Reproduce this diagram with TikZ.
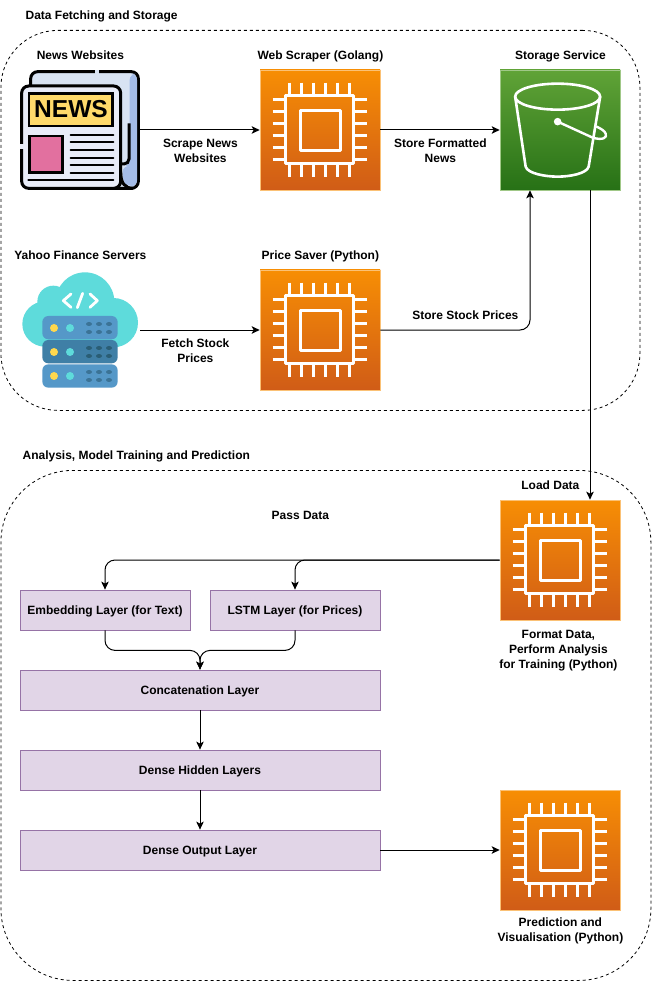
\documentclass[tikz,border=0pt]{standalone}
\usepackage{fontspec}
\setmainfont{Liberation Sans}
\usetikzlibrary{arrows.meta,calc}
\definecolor{orT}{HTML}{F78E04}
\definecolor{orB}{HTML}{D05C17}
\definecolor{grT}{HTML}{60A337}
\definecolor{grB}{HTML}{277116}
\definecolor{purF}{HTML}{E1D5E7}
\definecolor{purD}{HTML}{9673A6}
\definecolor{paperB}{HTML}{D8E3F3}
\definecolor{paperF}{HTML}{E8ECF8}
\definecolor{bandB}{HTML}{A4BCE8}
\definecolor{headY}{HTML}{FFDA6B}
\definecolor{pinkN}{HTML}{E2709F}
\definecolor{cloudC}{HTML}{5EDBDB}
\definecolor{srvA}{HTML}{5598C8}
\definecolor{srvB}{HTML}{3F7FA6}
\definecolor{dotA}{HTML}{3B7396}
\definecolor{dotB}{HTML}{2A5E75}
\definecolor{dotY}{HTML}{FFD84D}
\tikzset{
  x=1pt,y=-1pt,
  lbl/.style={font=\fontsize{12}{15}\selectfont\bfseries,align=center,inner sep=0pt,text=black,yshift=-0.9pt,xshift=0.4pt},
  one/.style={lbl,text height=8.7pt,text depth=2.6pt,yshift=-0.6pt},
  oneleft/.style={one,anchor=west},
  chipbox/.style={minimum size=120pt,inner sep=0pt,shade,top color=orT,bottom color=orB,draw=orT!55!white,line width=.7pt},
  bucketbox/.style={minimum size=120pt,inner sep=0pt,shade,top color=grT,bottom color=grB,draw=grT!60!white,line width=.7pt},
  iconbox/.style={minimum size=120pt,inner sep=0pt},
  layerbox/.style={draw=purD,fill=purF,line width=.8pt,inner sep=0pt,minimum height=40pt,font=\fontsize{12}{15}\selectfont\bfseries,text depth=0pt},
  group/.style={draw=black,dash pattern=on 3pt off 3pt,line width=.8pt,inner sep=0pt},
  conn/.style={draw=black,line width=1pt,rounded corners=10pt,-{Stealth[length=8pt,width=7.5pt,inset=2pt]}},
  wl/.style={draw=white,line width=3pt,line cap=round,line join=round},
}
\newcommand{\chipicon}[1]{%
  \begin{scope}[shift={(#1.north west)}]
    \draw[wl,line cap=butt] (26,26) rectangle (94,94);
    \draw[wl,line cap=butt] (40.5,40.5) rectangle (80.5,80.5);
    \foreach \p in {30,42,54,66,78,90}{
      \draw[wl,line cap=butt] (\p,13) -- (\p,26);
      \draw[wl,line cap=butt] (\p,94) -- (\p,107);
      \draw[wl,line cap=butt] (13,\p) -- (26,\p);
      \draw[wl,line cap=butt] (94,\p) -- (107,\p);
    }
  \end{scope}}
\begin{document}
\begin{tikzpicture}
\useasboundingbox (0,0) rectangle (651,981);
\fill[white] (0,0) rectangle (651,981);
% groups
\node[group,rounded corners=57pt,minimum width=639pt,minimum height=380pt,anchor=north west] (top) at (0.5,30) {};
\node[group,rounded corners=72pt,minimum width=650pt,minimum height=510pt,anchor=north west] (bottom) at (0.5,470) {};
% boxes
\node[iconbox] (news) at (80,130) {};
\node[chipbox] (web) at (320,130) {};
\node[bucketbox] (store) at (560,130) {};
\node[iconbox] (cloud) at (80,330) {};
\node[chipbox] (price) at (320,330) {};
\node[chipbox] (format) at (560,560) {};
\node[chipbox] (pred) at (560,850) {};
\node[layerbox,minimum width=170pt] (emb) at (105,610) {\raisebox{-1pt}{Embedding Layer (for Text)}};
\node[layerbox,minimum width=170pt] (lstm) at (295,610) {\raisebox{-1pt}{LSTM Layer (for Prices)}};
\node[layerbox,minimum width=360pt] (concat) at (200,690) {\raisebox{-1pt}{Concatenation Layer}};
\node[layerbox,minimum width=360pt] (hidden) at (200,770) {\raisebox{-1pt}{Dense Hidden Layers}};
\node[layerbox,minimum width=360pt] (output) at (200,850) {\raisebox{-1pt}{Dense Output Layer}};
\chipicon{web}
\chipicon{price}
\chipicon{format}
\chipicon{pred}
% bucket
\begin{scope}[shift={(store.north west)}]
  \draw[wl,line width=2.6pt] (58,27) ellipse [x radius=42.5,y radius=13];
  \draw[wl,line width=2.6pt] (15.5,27) -- (26,97) .. controls (28,104) and (46,107) .. (58,107) .. controls (70,107) and (87,104) .. (89,97) -- (100.5,27);
  \fill[white] (58,52) circle (3.8);
  \draw[wl,line width=2.4pt] (58,52) -- (93,68) .. controls (103,71) and (108,68) .. (106,64) .. controls (105,61) and (101,59) .. (97,57);
\end{scope}
% newspaper
\begin{scope}[shift={(0,60)},scale=1/3]
  \draw[fill=paperB,draw=black,line width=3pt,rounded corners=7pt] (92,80) -- (92,35) -- (415,35) -- (415,385) -- (200,385);
  \fill[bandB,rounded corners=6pt] (389,42) -- (411,42) -- (411,379) -- (385,379) -- (368,365) -- (368,318) -- (389,318) -- cycle;
  \draw[black,line width=3pt,rounded corners=5pt] (387,190) -- (387,312) -- (362,312);
  \draw[black,line width=3pt] (362,335) .. controls (362,370) and (375,385) .. (400,385);
  \draw[fill=paperF,draw=black,line width=3pt,rounded corners=7pt] (65,78) rectangle (362,385);
  \draw[fill=headY,draw=black,line width=2.6pt] (87,100) rectangle (338,198);
  \node[inner sep=0pt,font=\fontsize{24.5}{26}\selectfont\bfseries] (headline) at (213,148) {NEWS};
  \draw[fill=pinkN,draw=black,line width=2.6pt] (88,228) rectangle (188,338);
  \foreach \q in {225,247,270,293,315,338}{\draw[black,line width=2.2pt,line cap=round] (212,\q) -- (340,\q);}
  \draw[black,line width=2.2pt,line cap=round] (85,360) -- (340,360);
  % small breaks in the outlines
  \fill[paperB] (284,31) rectangle (298,43);
  \fill[white] (284,26) rectangle (298,31);
  \fill[paperF] (60,252) rectangle (72,268);
  \fill[white] (56,252) rectangle (60,268);
\end{scope}
% cloud and servers
\begin{scope}[shift={(0,260)},scale=1/3]
  \fill[cloudC] (255,125) circle [radius=88];
  \fill[cloudC] (160,125) circle [radius=48];
  \fill[cloudC] (135,192) circle [radius=68];
  \fill[cloudC] (340,188) circle [radius=74];
  \fill[cloudC] (140,150) rectangle (340,255);
  \draw[white,line width=2.8pt,line cap=round,line join=round] (213,102) -- (190,122) -- (213,142);
  \draw[white,line width=2.8pt,line cap=round] (248,100) -- (232,143);
  \draw[white,line width=2.8pt,line cap=round,line join=round] (270,102) -- (292,122) -- (270,142);
  \fill[srvA,rounded corners=6pt] (127,168) rectangle (353,238);
  \fill[srvB,rounded corners=6pt] (127,240) rectangle (353,310);
  \fill[srvA,rounded corners=6pt] (127,313) rectangle (353,383);
  \foreach \yy/\dc in {204/dotA,276/dotB,348/dotA}{
    \fill[dotY] (162,\yy) circle [radius=12];
    \fill[cloudC] (210,\yy) circle [radius=12];
    \foreach \xx in {267,297,327}{
      \fill[\dc] (\xx,\yy-12) ellipse [x radius=9,y radius=6];
      \fill[\dc] (\xx,\yy+12) ellipse [x radius=9,y radius=6];
    }
  }
\end{scope}
% connectors
\path[conn] (news.east) -- (web.west);
\path[conn] (web.east) -- (store.west);
\path[conn] (cloud.east) -- (price.west);
\path[conn] (price.east) -| ([xshift=-30pt]store.south);
\path[conn] ([xshift=30pt]store.south) -- ([xshift=30pt]format.north);
\path[conn] (format.west) -| (emb.north);
\path[conn] (format.west) -| (lstm.north);
\path[conn] (emb.south) -- ++(0,20) -| (concat.north);
\path[conn] (lstm.south) -- ++(0,20) -| (concat.north);
\path[conn] (concat.south) -- (hidden.north);
\path[conn] (hidden.south) -- (output.north);
\path[conn] (output.east) -- (pred.west);
% labels
\node[oneleft] (t1) at (25,15) {Data Fetching and Storage};
\node[one] (t2) at (80,55) {News Websites};
\node[one] (t3) at (320,55) {Web Scraper (Golang)};
\node[one] (t4) at (560,55) {Storage Service};
\node[one] (t5) at (80,255) {Yahoo Finance Servers};
\node[one] (t6) at (320,255) {Price Saver (Python)};
\node[lbl] (t7) at (200,150) {Scrape News\\Websites};
\node[lbl] (t8) at (440,150) {Store Formatted\\News};
\node[one] (t9) at (465,315) {Store Stock Prices};
\node[lbl] (t10) at (195,350) {Fetch Stock\\Prices};
\node[oneleft] (t11) at (22,455) {Analysis, Model Training and Prediction};
\node[one] (t12) at (550,485) {Load Data};
\node[one] (t13) at (300,515) {Pass Data};
\node[lbl] (t14) at (558,650) {Format Data,\\Perform Analysis\\for Training (Python)};
\node[lbl] (t15) at (560,930) {Prediction and\\Visualisation (Python)};
\end{tikzpicture}
\end{document}
